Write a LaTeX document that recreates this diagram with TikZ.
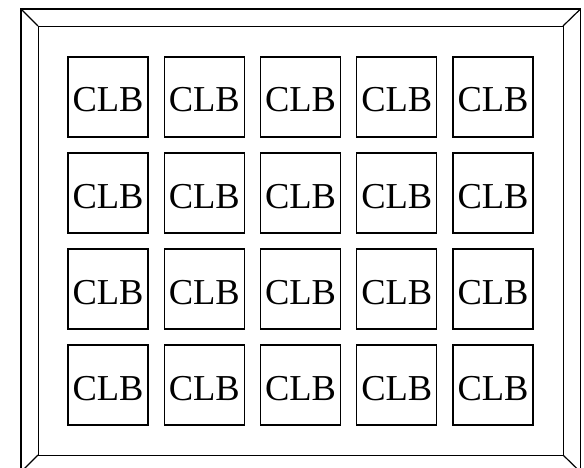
\documentclass[tikz,border=0pt]{standalone}
\usepackage{fontspec}
\setmainfont{Liberation Serif}
\usetikzlibrary{positioning}

\begin{document}
\begin{tikzpicture}[
      x=1pt, y=-1pt,
      clb/.style={draw, line width=1.4pt, minimum size=80pt, inner sep=0pt,
        text height=30pt, text depth=0pt, font=\fontsize{36.5}{36.5}\selectfont}
    ]
      \clip (0,0) rectangle (584,468);
      % frame corners
      \coordinate (o1) at (21,9);
      \coordinate (o2) at (580.5,9);
      \coordinate (o3) at (580.5,472);
      \coordinate (o4) at (21,472);
      \coordinate (i1) at (38,26);
      \coordinate (i2) at (563,26);
      \coordinate (i3) at (563,455);
      \coordinate (i4) at (38,455);
      \draw[line width=1.5pt] (o1) -- (o2) -- (o3) -- (o4) -- cycle;
      \draw[line width=0.9pt] (i1) -- (i2) -- (i3) -- (i4) -- cycle;
      \draw[line width=1.2pt] (o1) -- (i1);
      \draw[line width=1.2pt] (o2) -- (i2);
      \draw[line width=1.2pt] (o3) -- (i3);
      \draw[line width=1.2pt] (o4) -- (i4);
      % CLB array
      \node[clb] (c11) at (108,97) {CLB};
      \node[clb] (c12) at (204.25,97) {CLB};
      \node[clb] (c13) at (300.5,97) {CLB};
      \node[clb] (c14) at (396.75,97) {CLB};
      \node[clb] (c15) at (493,97) {CLB};
      \node[clb] (c21) at (108,193) {CLB};
      \node[clb] (c22) at (204.25,193) {CLB};
      \node[clb] (c23) at (300.5,193) {CLB};
      \node[clb] (c24) at (396.75,193) {CLB};
      \node[clb] (c25) at (493,193) {CLB};
      \node[clb] (c31) at (108,289) {CLB};
      \node[clb] (c32) at (204.25,289) {CLB};
      \node[clb] (c33) at (300.5,289) {CLB};
      \node[clb] (c34) at (396.75,289) {CLB};
      \node[clb] (c35) at (493,289) {CLB};
      \node[clb] (c41) at (108,385) {CLB};
      \node[clb] (c42) at (204.25,385) {CLB};
      \node[clb] (c43) at (300.5,385) {CLB};
      \node[clb] (c44) at (396.75,385) {CLB};
      \node[clb] (c45) at (493,385) {CLB};
    \end{tikzpicture}
\end{document}
